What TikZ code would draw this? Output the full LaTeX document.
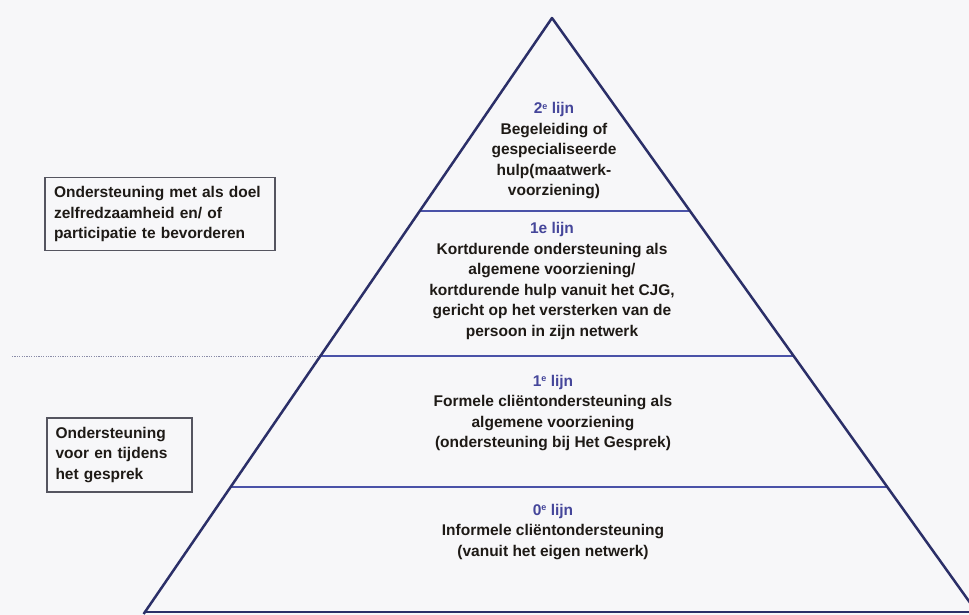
\documentclass[tikz,border=0pt]{standalone}
\usepackage{fontspec}
\setmainfont{Liberation Sans}
\usetikzlibrary{calc}
\definecolor{bgc}{HTML}{F7F7F9}
\definecolor{edgec}{HTML}{2B2F68}
\definecolor{levc}{HTML}{4A52A8}
\definecolor{headc}{HTML}{45469A}
\definecolor{txtc}{HTML}{1E1A16}
\definecolor{boxc}{HTML}{555560}
\definecolor{dotc}{HTML}{8A8CA8}
\tikzset{
  edgeline/.style={draw=edgec,line width=2.5pt,line join=round},
  levline/.style={draw=levc,line width=1.3pt},
  leveltext/.style={align=center,inner sep=0pt,text=txtc,font=\fontsize{15.5}{20.5}\selectfont\bfseries},
  sidebox/.style={draw=boxc,line width=1.1pt,align=left,inner ysep=0pt,text=txtc,font=\fontsize{15.5}{20.5}\selectfont\bfseries}
}
\newcommand{\hdc}[1]{\textcolor{headc}{#1}}
\newcommand{\supe}{\raisebox{0.55ex}{\fontsize{9}{9}\selectfont e}}
\begin{document}
\begin{tikzpicture}[x=1pt,y=-1pt]
\fill[bgc] (0,0) rectangle (969,615);
\useasboundingbox (0,0) rectangle (969,615);
\begin{scope}
\clip (0,0) rectangle (969,615);
\coordinate (A) at (552,18);
\coordinate (L) at (143.6,614);
\coordinate (R) at (978.1,614);
\coordinate (l1) at (419.8,211);
\coordinate (r1) at (690.0,211);
\coordinate (l2) at (320.5,356);
\coordinate (r2) at (793.7,356);
\coordinate (l3) at (230.7,487);
\coordinate (r3) at (887.3,487);
\coordinate (d0) at (12,356);
\coordinate (b1) at (145.1,612);
\coordinate (b2) at (976.7,612);
\draw[levline] (l1) -- (r1);
\draw[levline] (l2) -- (r2);
\draw[levline] (l3) -- (r3);
\draw[draw=dotc,line width=0.9pt,dash pattern=on 1.2pt off 1.2pt] (d0) -- (l2);
\draw[edgeline] (b1) -- (b2);
\draw[edgeline] (L) -- (A) -- (R);
\end{scope}

\node[leveltext] (t2) at (554,151) {\hdc{2\supe{} lijn}\\Begeleiding of\\gespecialiseerde\\hulp(maatwerk-\\voorziening)};
\node[leveltext] (t1b) at (552,281) {\hdc{1e lijn}\\Kortdurende ondersteuning als\\algemene voorziening/\\kortdurende hulp vanuit het CJG,\\gericht op het versterken van de\\persoon in zijn netwerk};
\node[leveltext] (t1a) at (553,413) {\hdc{1\supe{} lijn}\\Formele cliëntondersteuning als\\algemene voorziening\\(ondersteuning bij Het Gesprek)};
\node[leveltext] (t0) at (553,532) {\hdc{0\supe{} lijn}\\Informele cliëntondersteuning\\(vanuit het eigen netwerk)};

\node[sidebox,minimum width=230pt,minimum height=73pt,text width=212pt,inner xsep=9pt] (bx1) at (160,214) {Ondersteuning met als doel\\zelfredzaamheid en/ of\\participatie te bevorderen};
\node[sidebox,minimum width=145pt,minimum height=74pt,text width=128pt,inner xsep=8.5pt] (bx2) at (119.5,455) {\vspace*{0pt}\raisebox{0pt}{}Ondersteuning\\voor en tijdens\\het gesprek};
\end{tikzpicture}
\end{document}
